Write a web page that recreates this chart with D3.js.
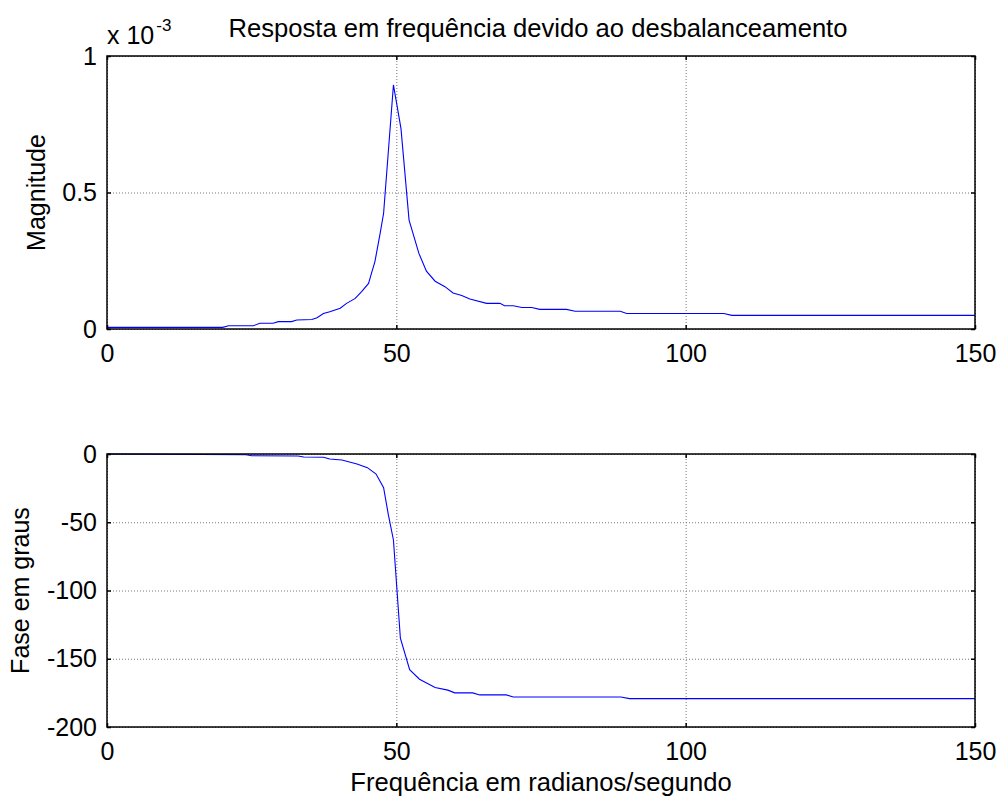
<!DOCTYPE html>
<html>
<head>
<meta charset="utf-8">
<script src="https://cdn.jsdelivr.net/npm/d3@7"></script>
<style>
  body { margin: 0; background: #fff; }
  text { font-family: "Liberation Sans", Arial, sans-serif; fill: #000; }
</style>
</head>
<body>
<svg width="1004" height="798"></svg>
<script>
// magnitude (x 10^-3)
const magFreq = [0, 20, 21, 25.3, 26.4, 28.7, 29.6, 31.9, 32.8, 35.4, 36.3, 37.4, 38.5, 40.3,
  41.4, 42.9, 44.0, 45.2, 45.7, 46.3, 47.2, 47.8, 49.5, 50.8, 52.2, 53.9, 55.2, 56.7, 58.4,
  59.8, 61.3, 62.7, 65.6, 67.9, 68.7, 70.2, 71.7, 73.4, 74.8, 79.4, 80.9, 88.7, 89.8, 106.6,
  108.0, 150];
const magValues = [0.006, 0.006, 0.012, 0.012, 0.021, 0.021, 0.027, 0.027, 0.033, 0.035, 0.041,
  0.057, 0.063, 0.076, 0.094, 0.112, 0.137, 0.167, 0.204, 0.247, 0.35, 0.424, 0.894, 0.735,
  0.399, 0.277, 0.212, 0.175, 0.155, 0.132, 0.123, 0.110, 0.094, 0.094, 0.085, 0.085, 0.079,
  0.079, 0.072, 0.072, 0.065, 0.065, 0.057, 0.057, 0.050, 0.050];

// phase in degrees, bottom panel
const phaseFreq = [0, 24, 25, 33, 34, 37.4, 38.5, 40.6, 43.2, 45.0, 46.5, 47.8, 48.6, 49.5,
  50.7, 52.3, 54.0, 56.7, 58.9, 60.1, 63.2, 64.4, 69.0, 70.2, 88.8, 90.3, 150];
const phaseValues = [0, -0.5, -1.3, -1.5, -2.2, -2.4, -3.7, -4.4, -7.3, -10, -14.7, -24.7, -44,
  -63, -135, -158, -165, -171, -173, -175, -175, -176.5, -176.5, -178, -178, -179.2, -179.2];

const xTicks = [0, 50, 100, 150];
const magTicks = [0, 0.5, 1];
const phaseTicks = [0, -50, -100, -150, -200];

const titleText = "Resposta em frequência devido ao desbalanceamento";
const xLabelText = "Frequência em radianos/segundo";

const svg = d3.select("svg");
const left = 107, right = 975;
const fontSize = 25;

const x = d3.scaleLinear().domain([0, 150]).range([left, right]);

function panel(top, bottom, yDomain, yTicks, freq, values, yLabel, yLabelX) {
  const y = d3.scaleLinear().domain(yDomain).range([bottom, top]);
  const g = svg.append("g");
  const h = bottom - top;
  const w = right - left;

  // dotted grid
  g.append("g")
    .attr("transform", `translate(0,${bottom})`)
    .call(d3.axisBottom(x).tickValues(xTicks).tickSize(-h).tickFormat(""))
    .call((s) => s.select(".domain").remove())
    .selectAll("line")
    .attr("stroke", "#777")
    .attr("stroke-dasharray", "1,2");
  g.append("g")
    .attr("transform", `translate(${left},0)`)
    .call(d3.axisLeft(y).tickValues(yTicks).tickSize(-w).tickFormat(""))
    .call((s) => s.select(".domain").remove())
    .selectAll("line")
    .attr("stroke", "#777")
    .attr("stroke-dasharray", "1,2");

  // curve
  g.append("path")
    .datum(freq.map((f, i) => [f, values[i]]))
    .attr("fill", "none")
    .attr("stroke", "#0000ff")
    .attr("stroke-width", 1.1)
    .attr("d", d3.line().x((d) => x(d[0])).y((d) => y(d[1])));

  // axes with inside ticks
  const bx = g.append("g")
    .attr("transform", `translate(0,${bottom})`)
    .call(d3.axisBottom(x).tickValues(xTicks).tickSizeInner(-4).tickSizeOuter(0)
      .tickPadding(15).tickFormat((d) => String(d)));
  const tx = g.append("g")
    .attr("transform", `translate(0,${top})`)
    .call(d3.axisTop(x).tickValues(xTicks).tickSizeInner(-4).tickSizeOuter(0).tickFormat(""));
  const ly = g.append("g")
    .attr("transform", `translate(${left},0)`)
    .call(d3.axisLeft(y).tickValues(yTicks).tickSizeInner(-4).tickSizeOuter(0)
      .tickPadding(10).tickFormat((d) => String(d)));
  const ry = g.append("g")
    .attr("transform", `translate(${right},0)`)
    .call(d3.axisRight(y).tickValues(yTicks).tickSizeInner(-4).tickSizeOuter(0).tickFormat(""));

  [bx, tx, ly, ry].forEach((a) => {
    a.selectAll(".domain").remove();
    a.selectAll("line").attr("stroke", "#000").attr("stroke-width", 1.5);
    a.selectAll("text")
      .style("font-family", '"Liberation Sans", Arial, sans-serif')
      .style("font-size", fontSize + "px")
      .attr("fill", "#000");
  });

  // box
  g.append("rect")
    .attr("x", left).attr("y", top).attr("width", w).attr("height", h)
    .attr("fill", "none").attr("stroke", "#000").attr("stroke-width", 1.5);

  // y label
  svg.append("text")
    .attr("transform", `translate(${yLabelX},${(top + bottom) / 2}) rotate(-90)`)
    .attr("text-anchor", "middle")
    .style("font-size", fontSize + "px")
    .text(yLabel);

  return y;
}

panel(56, 329, [0, 1], magTicks, magFreq, magValues, "Magnitude", 45);
panel(454, 727, [-200, 0], phaseTicks, phaseFreq, phaseValues, "Fase em graus", 29);

// title
svg.append("text")
  .attr("x", (left + right) / 2 - 3)
  .attr("y", 37)
  .attr("text-anchor", "middle")
  .style("font-size", "25.6px")
  .text(titleText);

// exponent label
const ex = svg.append("text")
  .attr("x", left)
  .attr("y", 44)
  .style("font-size", fontSize + "px");
ex.append("tspan").text("x 10");
ex.append("tspan")
  .attr("dy", -13)
  .attr("dx", 2)
  .style("font-size", "17px")
  .text("-3");

// x label
svg.append("text")
  .attr("x", (left + right) / 2)
  .attr("y", 791)
  .attr("text-anchor", "middle")
  .style("font-size", "25.6px")
  .text(xLabelText);
</script>
</body>
</html>
